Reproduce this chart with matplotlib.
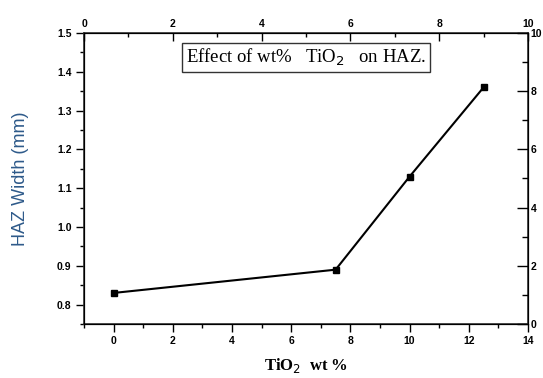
import matplotlib
matplotlib.use("Agg")
from matplotlib import pyplot as plt
from matplotlib.ticker import MultipleLocator

# data
tio2 = [0, 7.5, 10, 12.5]
haz_width = [0.83, 0.89, 1.13, 1.36]

x_lim = (-1, 14)
y_lim = (0.75, 1.5)
x_ticks = [0, 2, 4, 6, 8, 10, 12, 14]
y_ticks = [0.8, 0.9, 1.0, 1.1, 1.2, 1.3, 1.4, 1.5]
aux_ticks = [0, 2, 4, 6, 8, 10]

tick_font = {"family": "Liberation Sans", "weight": "bold", "size": 7.5}

fig = plt.figure(figsize=(5.43, 3.78), dpi=100)
ax = fig.add_axes([0.1547, 0.1429, 0.8177, 0.7698])

ax.plot(tio2, haz_width, color="black", lw=1.5, marker="s", ms=5,
        mec="black", mfc="black")

ax.set_xlim(x_lim)
ax.set_ylim(y_lim)
ax.set_xticks(x_ticks)
ax.set_yticks(y_ticks)
ax.set_xticklabels([str(t) for t in x_ticks], fontdict=tick_font)
ax.set_yticklabels(["%.1f" % t for t in y_ticks], fontdict=tick_font)
ax.xaxis.set_minor_locator(MultipleLocator(1))
ax.yaxis.set_minor_locator(MultipleLocator(0.05))
ax.tick_params(which="major", direction="out", length=6, width=1, pad=3)
ax.tick_params(which="minor", direction="out", length=3, width=1)
for s in ax.spines.values():
    s.set_linewidth(1.2)
    s.set_color("#333333")

# top and right axes, 0..10 scale
top = ax.twiny()
top.set_xlim(0, 10)
top.set_xticks(aux_ticks)
top.set_xticklabels([str(t) for t in aux_ticks], fontdict=tick_font)
top.xaxis.set_minor_locator(MultipleLocator(1))
top.tick_params(which="major", direction="in", length=6, width=1, pad=3)
top.tick_params(which="minor", direction="in", length=3, width=1)

right = ax.twinx()
right.set_ylim(0, 10)
right.set_yticks(aux_ticks)
right.set_yticklabels([str(t) for t in aux_ticks], fontdict=tick_font)
right.yaxis.set_minor_locator(MultipleLocator(1))
right.tick_params(which="major", direction="in", length=8, width=1, pad=2)
right.tick_params(which="minor", direction="in", length=4, width=1)

ax.set_xlabel("TiO$_2$  wt %", fontfamily="Liberation Serif",
              fontweight="bold", fontsize=12, labelpad=7)
ax.set_ylabel("HAZ Width (mm)", fontfamily="Liberation Sans",
              fontsize=13, color="#2e5a8a", labelpad=20)

ax.text(0.5, 0.915, "Effect of wt%   TiO$_2$   on HAZ.",
        transform=ax.transAxes, fontfamily="Liberation Serif", fontsize=13.5,
        va="center", ha="center",
        bbox=dict(boxstyle="square,pad=0.2", fc="white", ec="#333333", lw=1))

fig.savefig("out.png", dpi=100)
